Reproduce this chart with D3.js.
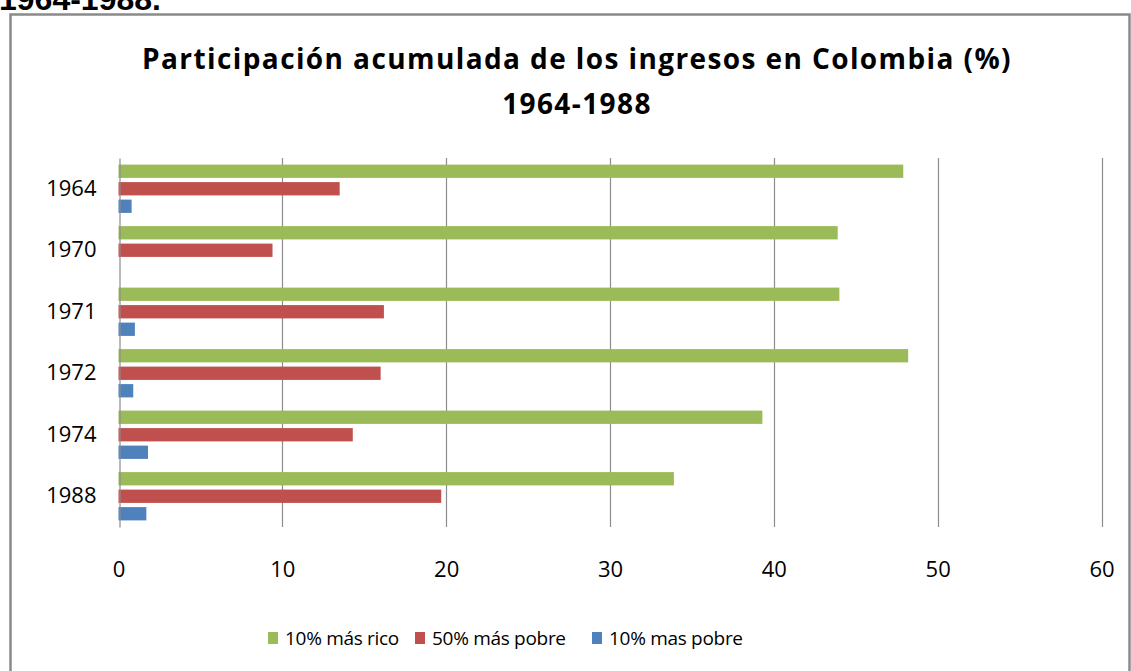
<!DOCTYPE html>
<html lang="es">
<head>
<meta charset="utf-8">
<title>Participación acumulada de los ingresos en Colombia</title>
<script src="https://cdn.jsdelivr.net/npm/d3@7"></script>
<style>
  body { margin: 0; background: #fff; }
  svg { display: block; }
  text { font-family: "Open Sans", sans-serif; fill: #000; }
  .title { font-weight: bold; font-size: 28px; letter-spacing: 1.4px; }
  .tick text { font-size: 22px; }
  .legend text { font-size: 19px; letter-spacing: -0.3px; }
</style>
</head>
<body>
<script>
// data
var years = ["1964", "1970", "1971", "1972", "1974", "1988"];
var seriesNames = ["10% más rico", "50% más pobre", "10% mas pobre"];
var richest10 = [47.9, 43.9, 44.0, 48.2, 39.3, 33.9];
var poorest50 = [13.5, 9.4, 16.2, 16.0, 14.3, 19.7];
var poorest10 = [0.8, 0, 1.0, 0.9, 1.8, 1.7];
var xTicks = [0, 10, 20, 30, 40, 50, 60];
var colors = ["#9bbb59", "#c0504d", "#4f81bd"];

var values = [richest10, poorest50, poorest10];

var w = 1131, h = 671;
var plotLeft = 118.5, plotRight = 1101.5, plotTop = 158, plotBottom = 527;

var svg = d3.select("body").append("svg")
  .attr("width", w)
  .attr("height", h);

svg.append("rect")
  .attr("width", w).attr("height", h)
  .attr("fill", "#fff");

// cut-off caption text above the chart frame
svg.append("text")
  .attr("x", -1).attr("y", 10)
  .style("font-family", "'Liberation Sans', Arial, sans-serif")
  .style("font-weight", "bold")
  .style("font-size", "32px")
  .text("1964-1988.");

// chart frame
svg.append("rect")
  .attr("x", 10.5).attr("y", 14.5)
  .attr("width", 1119).attr("height", 700)
  .attr("fill", "none")
  .attr("stroke", "#8a8a8a")
  .attr("stroke-width", 2.5);

// title
svg.append("text").attr("class", "title")
  .attr("x", 577).attr("y", 69)
  .attr("text-anchor", "middle")
  .text("Participación acumulada de los ingresos en Colombia (%)");
svg.append("text").attr("class", "title")
  .attr("x", 577).attr("y", 114)
  .attr("text-anchor", "middle")
  .text("1964-1988");

var x = d3.scaleLinear().domain([0, 60]).range([plotLeft, plotRight]);
var y0 = d3.scaleBand().domain(years).range([plotTop, plotBottom]);
var y1 = d3.scaleBand().domain(d3.range(3))
  .range([0, y0.bandwidth()])
  .paddingInner(0.24)
  .paddingOuter(0.377);

// vertical gridlines
svg.append("g")
  .selectAll("line")
  .data(xTicks.slice(1))
  .enter()
  .append("line")
  .attr("x1", function(d) { return Math.round(x(d)) + 0.5; })
  .attr("x2", function(d) { return Math.round(x(d)) + 0.5; })
  .attr("y1", plotTop)
  .attr("y2", plotBottom)
  .attr("stroke", "#8c8c8c")
  .attr("stroke-width", 1.2);

// bars
var rows = years.map(function(yr, i) {
  return { year: yr, vals: values.map(function(s) { return s[i]; }) };
});

var groups = svg.append("g")
  .selectAll("g")
  .data(rows)
  .enter()
  .append("g")
  .attr("transform", function(d) { return "translate(0," + y0(d.year) + ")"; });

groups.selectAll("rect")
  .data(function(d) { return d.vals; })
  .enter()
  .append("rect")
  .attr("x", x(0))
  .attr("y", function(d, i) { return y1(i); })
  .attr("width", function(d) { return x(d) - x(0); })
  .attr("height", y1.bandwidth())
  .attr("fill", function(d, i) { return colors[i]; });

// x axis labels (no axis line)
var xAxis = d3.axisBottom(x).tickValues(xTicks).tickSize(0).tickPadding(0);
var gx = svg.append("g")
  .attr("transform", "translate(0," + 560 + ")")
  .call(xAxis);
gx.select(".domain").remove();
gx.selectAll("text").attr("dy", "0.75em");

// category axis
var yAxis = d3.axisLeft(y0).tickSize(0).tickPadding(23);
var gy = svg.append("g")
  .attr("transform", "translate(" + (Math.round(plotLeft) + 0.5) + ",0)")
  .call(yAxis);
gy.select(".domain").attr("stroke", "#8c8c8c").attr("stroke-width", 1.2);

// legend
var legendX = [268, 415, 592];
var legend = svg.append("g").attr("class", "legend")
  .selectAll("g")
  .data(seriesNames)
  .enter()
  .append("g")
  .attr("transform", function(d, i) { return "translate(" + legendX[i] + ",632)"; });

legend.append("rect")
  .attr("width", 10).attr("height", 12)
  .attr("fill", function(d, i) { return colors[i]; });

legend.append("text")
  .attr("x", 17).attr("y", 6)
  .attr("dy", "0.35em")
  .text(function(d) { return d; });
</script>
</body>
</html>
